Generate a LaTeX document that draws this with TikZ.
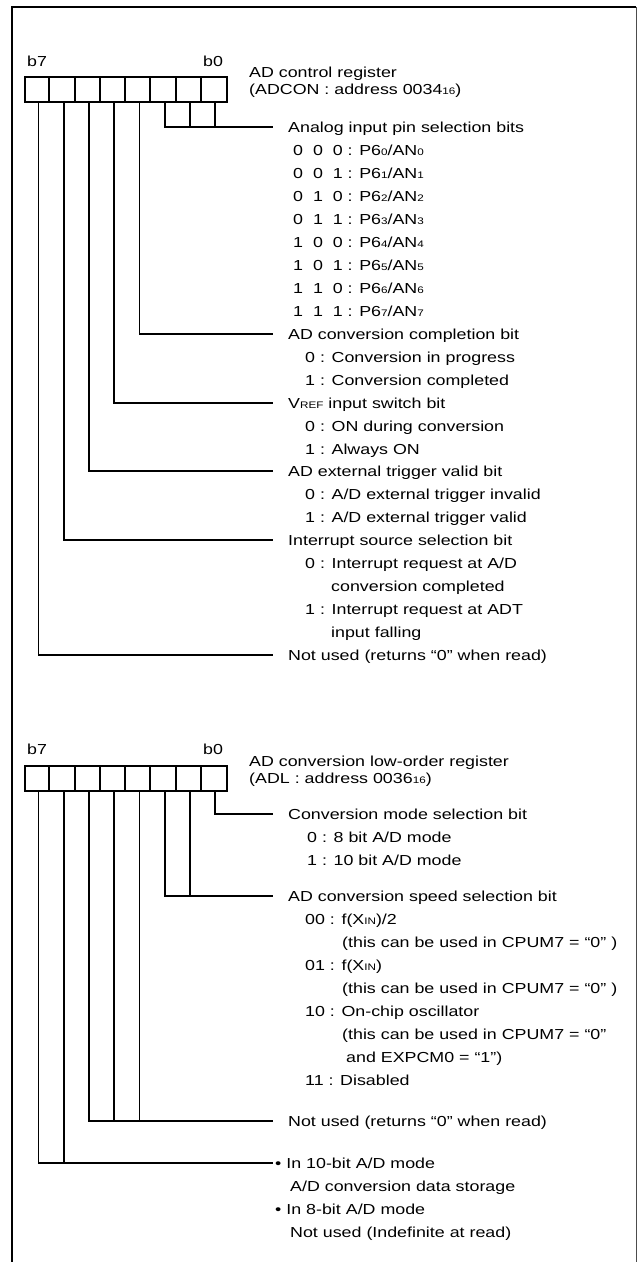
\documentclass[tikz,border=0pt]{standalone}
\usepackage{fontspec}
\newfontfamily\lbs[FakeStretch=1.23]{Liberation Sans}
\usetikzlibrary{calc}
\newcommand{\sbs}[1]{\raisebox{-0.6pt}{\fontsize{9.5}{9.5}\selectfont #1}}
\newcommand{\dsp}{\ \ }
\begin{document}
\begin{tikzpicture}[x=1pt,y=-1pt,
  font=\lbs\fontsize{14.5}{16}\selectfont,
  txt/.style={anchor=west, inner sep=0pt, text height=10.4pt, text depth=0pt},
  wire/.style={line width=1.8pt},
  regbox/.style={draw, line width=1.8pt, minimum width=202pt, minimum height=25pt, inner sep=0pt}]
\useasboundingbox (0,0) rectangle (644,1262);
% frame
\draw[line width=2pt] (12,1262) -- (12,7) -- (636,7);
\draw[line width=0.9pt, black!70] (636,7) -- (636,1262);

% ================= Register 1 =================
\node[regbox] (R1) at (126,89.5) {};
\foreach \k in {1,...,7}
  \draw[wire] ($(R1.north west)+(\k*25.25,0)$) -- ($(R1.south west)+(\k*25.25,0)$);
\foreach \k in {0,...,7}
  \coordinate (A\k) at ($(R1.south east)+(-12.6-\k*25.25,0)$);
\node[txt] (R1b7) at (27,61) {b7};
\node[txt] (R1b0) at (203,61) {b0};
\node[txt] (R1t1) at (249,72) {AD control register};
\node[txt] (R1t2) at (249,89) {(ADCON : address 0034\sbs{16})};

\node[txt] (h1) at (288,127) {Analog input pin selection bits};
\node[txt] (i1) at (293,150) {0\dsp 0\dsp 0 : P6\sbs{0}/AN\sbs{0}};
\node[txt] (i2) at (293,173) {0\dsp 0\dsp 1 : P6\sbs{1}/AN\sbs{1}};
\node[txt] (i3) at (293,196) {0\dsp 1\dsp 0 : P6\sbs{2}/AN\sbs{2}};
\node[txt] (i4) at (293,219) {0\dsp 1\dsp 1 : P6\sbs{3}/AN\sbs{3}};
\node[txt] (i5) at (293,242) {1\dsp 0\dsp 0 : P6\sbs{4}/AN\sbs{4}};
\node[txt] (i6) at (293,265) {1\dsp 0\dsp 1 : P6\sbs{5}/AN\sbs{5}};
\node[txt] (i7) at (293,288) {1\dsp 1\dsp 0 : P6\sbs{6}/AN\sbs{6}};
\node[txt] (i8) at (293,311) {1\dsp 1\dsp 1 : P6\sbs{7}/AN\sbs{7}};

\node[txt] (h2) at (288,334) {AD conversion completion bit};
\node[txt] (h2a) at (305,357) {0 : Conversion in progress};
\node[txt] (h2b) at (305,380) {1 : Conversion completed};

\node[txt] (h3) at (288,403) {V\sbs{REF} input switch bit};
\node[txt] (h3a) at (305,426) {0 : ON during conversion};
\node[txt] (h3b) at (305,449) {1 : Always ON};

\node[txt] (h4) at (288,471) {AD external trigger valid bit};
\node[txt] (h4a) at (305,494) {0 : A/D external trigger invalid};
\node[txt] (h4b) at (305,517) {1 : A/D external trigger valid};

\node[txt] (h5) at (288,540) {Interrupt source selection bit};
\node[txt] (h5a) at (305,563) {0 : Interrupt request at A/D};
\node[txt] (h5b) at (331,586) {conversion completed};
\node[txt] (h5c) at (305,609) {1 : Interrupt request at ADT};
\node[txt] (h5d) at (331,632) {input falling};

\node[txt] (h6) at (288,655) {Not used (returns “0” when read)};

\draw[wire] (A2) |- ([xshift=-15pt]h1.west);
\draw[wire] (A1) -- (A1 |- h1.west);
\draw[wire] (A0) -- (A0 |- h1.west);
\draw[wire] (A3) |- ([xshift=-15pt]h2.west);
\draw[wire] (A4) |- ([xshift=-15pt]h3.west);
\draw[wire] (A5) |- ([xshift=-15pt]h4.west);
\draw[wire] (A6) |- ([xshift=-15pt]h5.west);
\draw[wire] (A7) |- ([xshift=-15pt]h6.west);

% ================= Register 2 =================
\node[regbox] (R2) at (126,778.5) {};
\foreach \k in {1,...,7}
  \draw[wire] ($(R2.north west)+(\k*25.25,0)$) -- ($(R2.south west)+(\k*25.25,0)$);
\foreach \k in {0,...,7}
  \coordinate (B\k) at ($(R2.south east)+(-12.6-\k*25.25,0)$);
\node[txt] (R2b7) at (27,749) {b7};
\node[txt] (R2b0) at (203,749) {b0};
\node[txt] (R2t1) at (249,761) {AD conversion low-order register};
\node[txt] (R2t2) at (249,778) {(ADL : address 0036\sbs{16})};

\node[txt] (g1) at (288,814) {Conversion mode selection bit};
\node[txt] (g1a) at (307,837) {0 : 8 bit A/D mode};
\node[txt] (g1b) at (307,860) {1 : 10 bit A/D mode};

\node[txt] (g2) at (288,896) {AD conversion speed selection bit};
\node[txt] (g2a) at (305,919) {00 : f(X\sbs{IN})/2};
\node[txt] (g2b) at (342,942) {(this can be used in CPUM7 = “0” )};
\node[txt] (g2c) at (305,965) {01 : f(X\sbs{IN})};
\node[txt] (g2d) at (342,988) {(this can be used in CPUM7 = “0” )};
\node[txt] (g2e) at (305,1011) {10 : On-chip oscillator};
\node[txt] (g2f) at (342,1034) {(this can be used in CPUM7 = “0”};
\node[txt] (g2g) at (346,1057) {and EXPCM0 = “1”)};
\node[txt] (g2h) at (305,1080) {11 : Disabled};

\node[txt] (g3) at (288,1121) {Not used (returns “0” when read)};

\node[txt] (g4) at (275,1163) {• In 10-bit A/D mode};
\node[txt] (g4a) at (290,1186) {A/D conversion data storage};
\node[txt] (g4b) at (275,1209) {• In 8-bit A/D mode};
\node[txt] (g4c) at (290,1232) {Not used (Indefinite at read)};

\draw[wire] (B0) |- ([xshift=-15pt]g1.west);
\draw[wire] (B2) |- ([xshift=-15pt]g2.west);
\draw[wire] (B1) -- (B1 |- g2.west);
\draw[wire] (B5) |- ([xshift=-15pt]g3.west);
\draw[wire] (B4) -- (B4 |- g3.west);
\draw[wire] (B3) -- (B3 |- g3.west);
\draw[wire] (B7) |- ([xshift=-2pt]g4.west);
\draw[wire] (B6) -- (B6 |- g4.west);
\end{tikzpicture}
\end{document}
